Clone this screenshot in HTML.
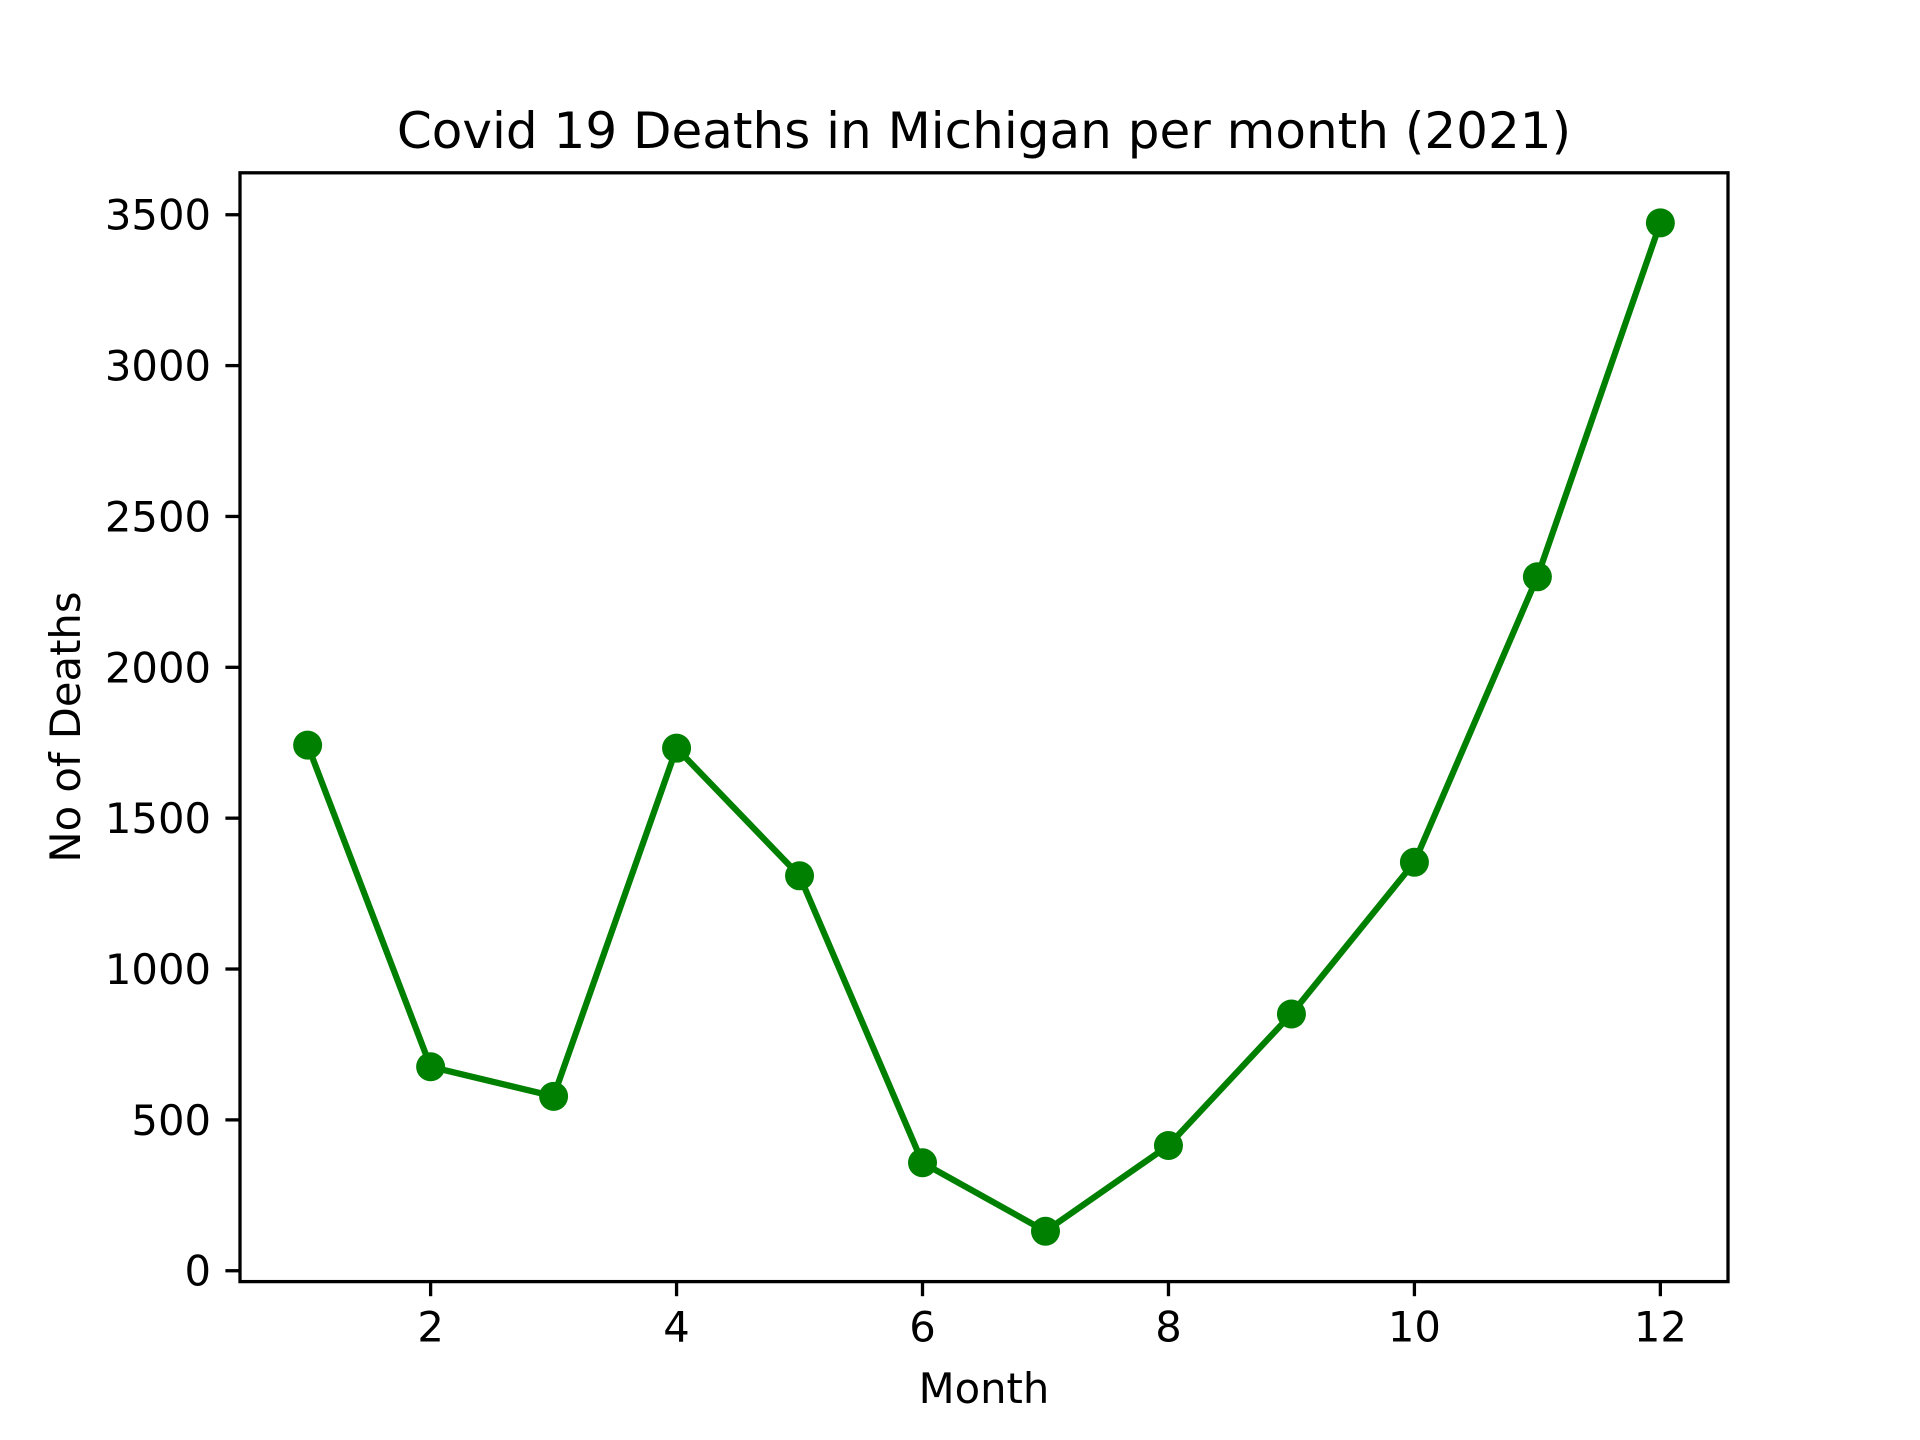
<!DOCTYPE html>
<html><head><meta charset="utf-8"><style>
html,body{margin:0;padding:0;background:#fff;}
svg{display:block;font-family:"DejaVu Sans","Liberation Sans",sans-serif;}
</style></head><body>
<svg id="chart" width="1920" height="1440" viewBox="0 0 1920 1440">
<rect width="1920" height="1440" fill="#fff"/>
<text x="984" y="148" font-size="50" text-anchor="middle">Covid 19 Deaths in Michigan per month (2021)</text>
<g id="xticks"></g><g id="yticks"></g>
<g id="series"></g>
<rect x="240" y="172.8" width="1488" height="1108.8" fill="none" stroke="#000" stroke-width="3.3"/>
<text x="984" y="1414" font-size="41.7" text-anchor="middle" dominant-baseline="auto" transform="translate(0,-11)">Month</text>
<text transform="translate(80,727) rotate(-90)" font-size="41.7" text-anchor="middle">No of Deaths</text>
</svg>
<script>
const months=[1,2,3,4,5,6,7,8,9,10,11,12];
const deaths=[1742,676,578,1732,1309,358,131,415,851,1354,2300,3473];
const xTickValues=[2,4,6,8,10,12];
const yTickValues=[0,500,1000,1500,2000,2500,3000,3500];
const L=240,R=1728,T=172.8,B=1281.6;
const xmin=0.45,xmax=12.55,ymin=-36,ymax=3639;
const X=v=>L+(v-xmin)/(xmax-xmin)*(R-L);
const Y=v=>B-(v-ymin)/(ymax-ymin)*(B-T);
const NS="http://www.w3.org/2000/svg";
function mk(tag,attrs,parent){const e=document.createElementNS(NS,tag);for(const k in attrs)e.setAttribute(k,attrs[k]);parent.appendChild(e);return e;}
const xg=document.getElementById('xticks'),yg=document.getElementById('yticks'),sg=document.getElementById('series');
xTickValues.forEach(v=>{
 const l=mk('line',{x1:X(v),x2:X(v),y1:B,y2:B+14.6,stroke:'#000','stroke-width':3.3},xg);
 
 
 const t=mk('text',{x:X(v),y:B+60,'font-size':41.7,'text-anchor':'middle'},xg);t.textContent=v;
 
 
});
yTickValues.forEach(v=>{
 const l=mk('line',{x1:L-14.6,x2:L,y1:Y(v),y2:Y(v),stroke:'#000','stroke-width':3.3},yg);
 
 
 const t=mk('text',{x:L-29,y:Y(v)+15,'font-size':41.7,'text-anchor':'end'},yg);t.textContent=v;
 
 
});
const pts=months.map((m,i)=>X(m)+','+Y(deaths[i])).join(' ');
const pl=mk('polyline',{points:pts,fill:'none',stroke:'#008000','stroke-width':6.25,'stroke-linejoin':'round'},sg);


months.forEach((m,i)=>{
 const c=mk('circle',{cx:X(m),cy:Y(deaths[i]),r:14.5,fill:'#008000'},sg);
 
 
});
</script>
</body></html>
